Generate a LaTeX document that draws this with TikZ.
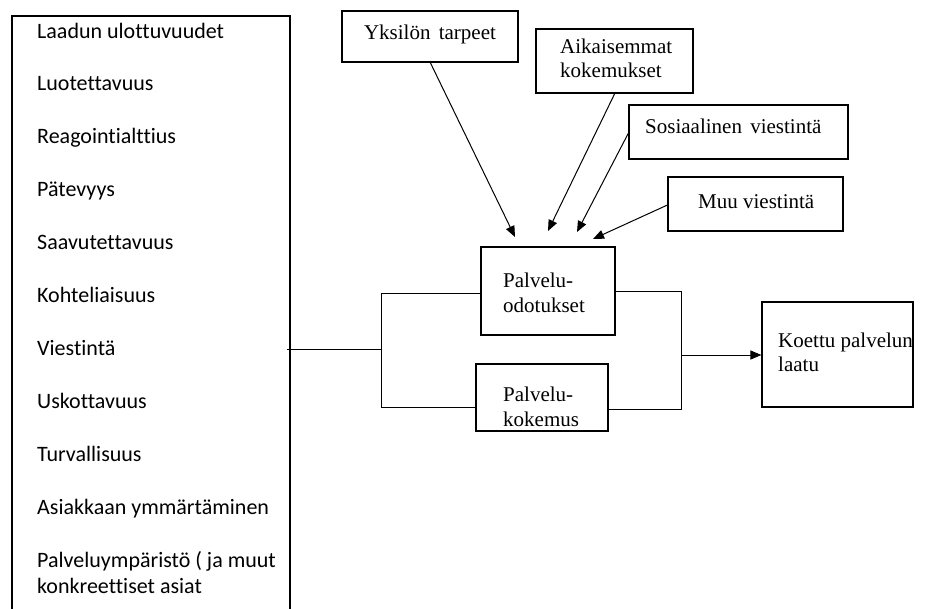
\documentclass[tikz,border=0pt]{standalone}
\usepackage{fontspec}
\setmainfont{Liberation Serif}
\newfontfamily\listfont[Ligatures=NoCommon]{Carlito}
\usetikzlibrary{arrows.meta}

\begin{document}
\begin{tikzpicture}[x=1pt,y=-1pt,
  frame/.style={draw,line width=1.1pt,inner sep=0pt,rectangle},
  serif/.style={inner sep=0pt,font=\fontsize{21}{24}\selectfont,align=left},
  item/.style={inner sep=0pt,anchor=base west,font=\listfont\fontsize{22}{26}\selectfont,align=left},
  link/.style={line width=1pt},
  feed/.style={line width=1pt,-{Triangle[length=11pt,width=9pt]}},
]
\useasboundingbox (0,0) rectangle (928,608);

% dimension list (box open at the bottom of the page)
\node[frame,minimum width=278pt,minimum height=620pt] (dims) at (151,326) {};
\foreach \t [count=\i from 0] in {Laadun ulottuvuudet,Luotettavuus,Reagointialttius,P\"atevyys,Saavutettavuus,Kohteliaisuus,Viestint\"a,Uskottavuus,Turvallisuus,Asiakkaan ymm\"art\"aminen}
  \node[item] (d\i) at (37,38+52.9*\i) {\t};
% two-line item: anchored at the baseline of its last line
\node[item] (d10) at (37,593) {Palveluymp\"arist\"o ( ja muut\\konkreettiset asiat};

% influencing factors
\node[frame,minimum width=176pt,minimum height=51pt] (yks) at (430,36.5) {};
\node[serif,anchor=base] (yksT) at (430,39) {Yksil\"on\hspace{3pt} tarpeet};
\node[frame,minimum width=157pt,minimum height=64pt] (aik) at (614.5,61) {};
\node[serif,anchor=base west] (aikT) at (560,77) {Aikaisemmat\\kokemukset};
\node[frame,minimum width=219pt,minimum height=54pt] (sos) at (738.5,132) {};
\node[serif,anchor=base west] (sosT) at (645,133) {Sosiaalinen\hspace{3pt} viestint\"a};
\node[frame,minimum width=175pt,minimum height=54pt] (muu) at (755.5,204) {};
\node[serif,anchor=base west] (muuT) at (698,208) {Muu viestint\"a};

% expectation, experience and result
\node[frame,minimum width=134pt,minimum height=88pt] (odo) at (548,291) {};
\node[serif,anchor=base west,font=\fontsize{21}{25}\selectfont] (odoT) at (503,312) {Palvelu-\\odotukset};
\node[frame,minimum width=132pt,minimum height=67pt] (kok) at (542,397.5) {};
\node[serif,anchor=base west,font=\fontsize{21}{25}\selectfont] (kokT) at (503,426) {Palvelu-\\kokemus};
\node[frame,minimum width=151pt,minimum height=105pt] (koe) at (837.5,354.5) {};
\node[serif,anchor=base west] (koeT) at (778,371) {Koettu palvelun\\laatu};

% arrows into the expectation box
\coordinate (s1) at (430,62);
\coordinate (s2) at (615,93);
\coordinate (t1) at (515,237);
\coordinate (t2) at (548,231);
\coordinate (t3) at (577,232);
\coordinate (t4) at (593,239);
\draw[feed] (s1) -- (t1);
\draw[feed] (s2) -- (t2);
\draw[feed] (sos.west |- 0,133) -- (t3);
\draw[feed] (muu.west |- 0,205) -- (t4);

% bracket joining the list to both boxes
\coordinate (lm) at (381,349);
\coordinate (lt) at (381,293);
\coordinate (lb) at (381,407);
\draw[link] (dims.east |- lm) ++(-4,0) -- (lm);
\draw[link] (odo.west |- lt) -- (lt) -- (lb) -- (kok.west |- lb);

% bracket joining both boxes to the result
\coordinate (rt) at (681,291);
\coordinate (rb) at (681,409);
\coordinate (rm) at (681,355);
\draw[link] (odo.east |- rt) -- (rt) -- (rb) -- (kok.east |- rb);
\draw[feed] (rm) -- (koe.west |- rm);
\end{tikzpicture}
\end{document}
